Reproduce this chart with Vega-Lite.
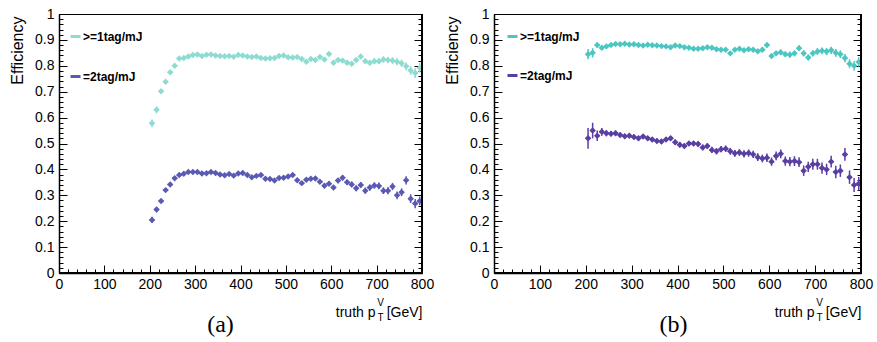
{
"$schema": "https://vega.github.io/schema/vega-lite/v6.json",
"padding": {"left": 8, "top": 6, "right": 0, "bottom": 0},
"background": "white",
"config": {
  "view": {"stroke": "black", "strokeWidth": 1},
  "axis": {"labelFont": "Liberation Sans", "labelFontSize": 14, "labelColor": "black", "titleFont": "Liberation Sans", "titleFontSize": 14, "titleFontWeight": "normal", "titleColor": "black", "domainColor": "black", "tickColor": "black", "grid": false, "labelFlush": false, "labelOverlap": false}
},
"resolve": {"scale": {"color": "independent"}, "legend": {"color": "independent"}},
"spacing": 8,
"data": {"values": [
{"p":"a","s":">=1tag/mJ","x":205,"y":0.578,"e":0.015},{"p":"a","s":">=1tag/mJ","x":215,"y":0.630,"e":0.013},{"p":"a","s":">=1tag/mJ","x":225,"y":0.702,"e":0.008},{"p":"a","s":">=1tag/mJ","x":235,"y":0.738,"e":0.007},{"p":"a","s":">=1tag/mJ","x":245,"y":0.775,"e":0.006},{"p":"a","s":">=1tag/mJ","x":255,"y":0.800,"e":0.005},{"p":"a","s":">=1tag/mJ","x":265,"y":0.828,"e":0.005},{"p":"a","s":">=1tag/mJ","x":275,"y":0.830,"e":0.004},{"p":"a","s":">=1tag/mJ","x":285,"y":0.836,"e":0.004},{"p":"a","s":">=1tag/mJ","x":295,"y":0.842,"e":0.004},
{"p":"a","s":">=1tag/mJ","x":305,"y":0.844,"e":0.004},{"p":"a","s":">=1tag/mJ","x":315,"y":0.838,"e":0.004},{"p":"a","s":">=1tag/mJ","x":325,"y":0.843,"e":0.004},{"p":"a","s":">=1tag/mJ","x":335,"y":0.844,"e":0.004},{"p":"a","s":">=1tag/mJ","x":345,"y":0.840,"e":0.004},{"p":"a","s":">=1tag/mJ","x":355,"y":0.838,"e":0.004},{"p":"a","s":">=1tag/mJ","x":365,"y":0.837,"e":0.004},{"p":"a","s":">=1tag/mJ","x":375,"y":0.838,"e":0.004},{"p":"a","s":">=1tag/mJ","x":385,"y":0.835,"e":0.004},{"p":"a","s":">=1tag/mJ","x":395,"y":0.842,"e":0.004},
{"p":"a","s":">=1tag/mJ","x":405,"y":0.840,"e":0.004},{"p":"a","s":">=1tag/mJ","x":415,"y":0.836,"e":0.004},{"p":"a","s":">=1tag/mJ","x":425,"y":0.834,"e":0.005},{"p":"a","s":">=1tag/mJ","x":435,"y":0.836,"e":0.005},{"p":"a","s":">=1tag/mJ","x":445,"y":0.830,"e":0.005},{"p":"a","s":">=1tag/mJ","x":455,"y":0.828,"e":0.005},{"p":"a","s":">=1tag/mJ","x":465,"y":0.829,"e":0.005},{"p":"a","s":">=1tag/mJ","x":475,"y":0.830,"e":0.005},{"p":"a","s":">=1tag/mJ","x":485,"y":0.838,"e":0.005},{"p":"a","s":">=1tag/mJ","x":495,"y":0.840,"e":0.005},
{"p":"a","s":">=1tag/mJ","x":505,"y":0.833,"e":0.006},{"p":"a","s":">=1tag/mJ","x":515,"y":0.832,"e":0.006},{"p":"a","s":">=1tag/mJ","x":525,"y":0.834,"e":0.006},{"p":"a","s":">=1tag/mJ","x":535,"y":0.826,"e":0.006},{"p":"a","s":">=1tag/mJ","x":545,"y":0.816,"e":0.006},{"p":"a","s":">=1tag/mJ","x":555,"y":0.826,"e":0.006},{"p":"a","s":">=1tag/mJ","x":565,"y":0.822,"e":0.007},{"p":"a","s":">=1tag/mJ","x":575,"y":0.834,"e":0.007},{"p":"a","s":">=1tag/mJ","x":585,"y":0.824,"e":0.007},{"p":"a","s":">=1tag/mJ","x":595,"y":0.846,"e":0.007},
{"p":"a","s":">=1tag/mJ","x":605,"y":0.812,"e":0.008},{"p":"a","s":">=1tag/mJ","x":615,"y":0.822,"e":0.008},{"p":"a","s":">=1tag/mJ","x":625,"y":0.820,"e":0.008},{"p":"a","s":">=1tag/mJ","x":635,"y":0.812,"e":0.009},{"p":"a","s":">=1tag/mJ","x":645,"y":0.808,"e":0.009},{"p":"a","s":">=1tag/mJ","x":655,"y":0.822,"e":0.009},{"p":"a","s":">=1tag/mJ","x":665,"y":0.836,"e":0.010},{"p":"a","s":">=1tag/mJ","x":675,"y":0.818,"e":0.010},{"p":"a","s":">=1tag/mJ","x":685,"y":0.812,"e":0.010},{"p":"a","s":">=1tag/mJ","x":695,"y":0.818,"e":0.011},
{"p":"a","s":">=1tag/mJ","x":705,"y":0.818,"e":0.011},{"p":"a","s":">=1tag/mJ","x":715,"y":0.824,"e":0.012},{"p":"a","s":">=1tag/mJ","x":725,"y":0.822,"e":0.012},{"p":"a","s":">=1tag/mJ","x":735,"y":0.820,"e":0.013},{"p":"a","s":">=1tag/mJ","x":745,"y":0.816,"e":0.014},{"p":"a","s":">=1tag/mJ","x":755,"y":0.810,"e":0.014},{"p":"a","s":">=1tag/mJ","x":765,"y":0.798,"e":0.015},{"p":"a","s":">=1tag/mJ","x":775,"y":0.782,"e":0.017},{"p":"a","s":">=1tag/mJ","x":785,"y":0.772,"e":0.019},{"p":"a","s":">=1tag/mJ","x":795,"y":0.792,"e":0.018},
{"p":"a","s":"=2tag/mJ","x":205,"y":0.205,"e":0.012},{"p":"a","s":"=2tag/mJ","x":215,"y":0.245,"e":0.010},{"p":"a","s":"=2tag/mJ","x":225,"y":0.278,"e":0.008},{"p":"a","s":"=2tag/mJ","x":235,"y":0.320,"e":0.007},{"p":"a","s":"=2tag/mJ","x":245,"y":0.342,"e":0.006},{"p":"a","s":"=2tag/mJ","x":255,"y":0.366,"e":0.005},{"p":"a","s":"=2tag/mJ","x":265,"y":0.378,"e":0.005},{"p":"a","s":"=2tag/mJ","x":275,"y":0.383,"e":0.005},{"p":"a","s":"=2tag/mJ","x":285,"y":0.390,"e":0.005},{"p":"a","s":"=2tag/mJ","x":295,"y":0.390,"e":0.005},
{"p":"a","s":"=2tag/mJ","x":305,"y":0.390,"e":0.005},{"p":"a","s":"=2tag/mJ","x":315,"y":0.384,"e":0.005},{"p":"a","s":"=2tag/mJ","x":325,"y":0.385,"e":0.005},{"p":"a","s":"=2tag/mJ","x":335,"y":0.390,"e":0.005},{"p":"a","s":"=2tag/mJ","x":345,"y":0.386,"e":0.005},{"p":"a","s":"=2tag/mJ","x":355,"y":0.380,"e":0.005},{"p":"a","s":"=2tag/mJ","x":365,"y":0.377,"e":0.005},{"p":"a","s":"=2tag/mJ","x":375,"y":0.382,"e":0.005},{"p":"a","s":"=2tag/mJ","x":385,"y":0.376,"e":0.005},{"p":"a","s":"=2tag/mJ","x":395,"y":0.384,"e":0.005},
{"p":"a","s":"=2tag/mJ","x":405,"y":0.386,"e":0.005},{"p":"a","s":"=2tag/mJ","x":415,"y":0.378,"e":0.005},{"p":"a","s":"=2tag/mJ","x":425,"y":0.370,"e":0.005},{"p":"a","s":"=2tag/mJ","x":435,"y":0.375,"e":0.006},{"p":"a","s":"=2tag/mJ","x":445,"y":0.378,"e":0.006},{"p":"a","s":"=2tag/mJ","x":455,"y":0.364,"e":0.006},{"p":"a","s":"=2tag/mJ","x":465,"y":0.363,"e":0.006},{"p":"a","s":"=2tag/mJ","x":475,"y":0.357,"e":0.006},{"p":"a","s":"=2tag/mJ","x":485,"y":0.367,"e":0.006},{"p":"a","s":"=2tag/mJ","x":495,"y":0.368,"e":0.006},
{"p":"a","s":"=2tag/mJ","x":505,"y":0.373,"e":0.007},{"p":"a","s":"=2tag/mJ","x":515,"y":0.378,"e":0.007},{"p":"a","s":"=2tag/mJ","x":525,"y":0.358,"e":0.007},{"p":"a","s":"=2tag/mJ","x":535,"y":0.347,"e":0.007},{"p":"a","s":"=2tag/mJ","x":545,"y":0.360,"e":0.007},{"p":"a","s":"=2tag/mJ","x":555,"y":0.364,"e":0.008},{"p":"a","s":"=2tag/mJ","x":565,"y":0.365,"e":0.008},{"p":"a","s":"=2tag/mJ","x":575,"y":0.352,"e":0.008},{"p":"a","s":"=2tag/mJ","x":585,"y":0.337,"e":0.009},{"p":"a","s":"=2tag/mJ","x":595,"y":0.345,"e":0.009},
{"p":"a","s":"=2tag/mJ","x":605,"y":0.330,"e":0.009},{"p":"a","s":"=2tag/mJ","x":615,"y":0.357,"e":0.010},{"p":"a","s":"=2tag/mJ","x":625,"y":0.368,"e":0.010},{"p":"a","s":"=2tag/mJ","x":635,"y":0.350,"e":0.010},{"p":"a","s":"=2tag/mJ","x":645,"y":0.342,"e":0.011},{"p":"a","s":"=2tag/mJ","x":655,"y":0.327,"e":0.011},{"p":"a","s":"=2tag/mJ","x":665,"y":0.340,"e":0.011},{"p":"a","s":"=2tag/mJ","x":675,"y":0.318,"e":0.012},{"p":"a","s":"=2tag/mJ","x":685,"y":0.330,"e":0.012},{"p":"a","s":"=2tag/mJ","x":695,"y":0.338,"e":0.012},
{"p":"a","s":"=2tag/mJ","x":705,"y":0.336,"e":0.013},{"p":"a","s":"=2tag/mJ","x":715,"y":0.318,"e":0.013},{"p":"a","s":"=2tag/mJ","x":725,"y":0.318,"e":0.014},{"p":"a","s":"=2tag/mJ","x":735,"y":0.334,"e":0.014},{"p":"a","s":"=2tag/mJ","x":745,"y":0.300,"e":0.015},{"p":"a","s":"=2tag/mJ","x":755,"y":0.312,"e":0.015},{"p":"a","s":"=2tag/mJ","x":765,"y":0.358,"e":0.016},{"p":"a","s":"=2tag/mJ","x":775,"y":0.287,"e":0.017},{"p":"a","s":"=2tag/mJ","x":785,"y":0.268,"e":0.018},{"p":"a","s":"=2tag/mJ","x":795,"y":0.278,"e":0.017},
{"p":"b","s":">=1tag/mJ","x":205,"y":0.845,"e":0.020},{"p":"b","s":">=1tag/mJ","x":215,"y":0.850,"e":0.018},{"p":"b","s":">=1tag/mJ","x":225,"y":0.880,"e":0.010},{"p":"b","s":">=1tag/mJ","x":235,"y":0.870,"e":0.008},{"p":"b","s":">=1tag/mJ","x":245,"y":0.875,"e":0.007},{"p":"b","s":">=1tag/mJ","x":255,"y":0.880,"e":0.006},{"p":"b","s":">=1tag/mJ","x":265,"y":0.884,"e":0.005},{"p":"b","s":">=1tag/mJ","x":275,"y":0.883,"e":0.005},{"p":"b","s":">=1tag/mJ","x":285,"y":0.885,"e":0.005},{"p":"b","s":">=1tag/mJ","x":295,"y":0.882,"e":0.005},
{"p":"b","s":">=1tag/mJ","x":305,"y":0.883,"e":0.005},{"p":"b","s":">=1tag/mJ","x":315,"y":0.880,"e":0.005},{"p":"b","s":">=1tag/mJ","x":325,"y":0.878,"e":0.005},{"p":"b","s":">=1tag/mJ","x":335,"y":0.881,"e":0.005},{"p":"b","s":">=1tag/mJ","x":345,"y":0.879,"e":0.005},{"p":"b","s":">=1tag/mJ","x":355,"y":0.878,"e":0.005},{"p":"b","s":">=1tag/mJ","x":365,"y":0.876,"e":0.005},{"p":"b","s":">=1tag/mJ","x":375,"y":0.875,"e":0.005},{"p":"b","s":">=1tag/mJ","x":385,"y":0.872,"e":0.005},{"p":"b","s":">=1tag/mJ","x":395,"y":0.878,"e":0.005},
{"p":"b","s":">=1tag/mJ","x":405,"y":0.876,"e":0.005},{"p":"b","s":">=1tag/mJ","x":415,"y":0.872,"e":0.005},{"p":"b","s":">=1tag/mJ","x":425,"y":0.870,"e":0.006},{"p":"b","s":">=1tag/mJ","x":435,"y":0.866,"e":0.006},{"p":"b","s":">=1tag/mJ","x":445,"y":0.866,"e":0.006},{"p":"b","s":">=1tag/mJ","x":455,"y":0.868,"e":0.006},{"p":"b","s":">=1tag/mJ","x":465,"y":0.872,"e":0.006},{"p":"b","s":">=1tag/mJ","x":475,"y":0.870,"e":0.006},{"p":"b","s":">=1tag/mJ","x":485,"y":0.864,"e":0.006},{"p":"b","s":">=1tag/mJ","x":495,"y":0.862,"e":0.007},
{"p":"b","s":">=1tag/mJ","x":505,"y":0.862,"e":0.007},{"p":"b","s":">=1tag/mJ","x":515,"y":0.848,"e":0.007},{"p":"b","s":">=1tag/mJ","x":525,"y":0.862,"e":0.007},{"p":"b","s":">=1tag/mJ","x":535,"y":0.866,"e":0.007},{"p":"b","s":">=1tag/mJ","x":545,"y":0.860,"e":0.008},{"p":"b","s":">=1tag/mJ","x":555,"y":0.864,"e":0.008},{"p":"b","s":">=1tag/mJ","x":565,"y":0.862,"e":0.008},{"p":"b","s":">=1tag/mJ","x":575,"y":0.856,"e":0.008},{"p":"b","s":">=1tag/mJ","x":585,"y":0.862,"e":0.009},{"p":"b","s":">=1tag/mJ","x":595,"y":0.880,"e":0.009},
{"p":"b","s":">=1tag/mJ","x":605,"y":0.838,"e":0.009},{"p":"b","s":">=1tag/mJ","x":615,"y":0.848,"e":0.010},{"p":"b","s":">=1tag/mJ","x":625,"y":0.852,"e":0.010},{"p":"b","s":">=1tag/mJ","x":635,"y":0.845,"e":0.010},{"p":"b","s":">=1tag/mJ","x":645,"y":0.843,"e":0.011},{"p":"b","s":">=1tag/mJ","x":655,"y":0.848,"e":0.011},{"p":"b","s":">=1tag/mJ","x":665,"y":0.868,"e":0.011},{"p":"b","s":">=1tag/mJ","x":675,"y":0.848,"e":0.012},{"p":"b","s":">=1tag/mJ","x":685,"y":0.832,"e":0.012},{"p":"b","s":">=1tag/mJ","x":695,"y":0.848,"e":0.012},
{"p":"b","s":">=1tag/mJ","x":705,"y":0.855,"e":0.013},{"p":"b","s":">=1tag/mJ","x":715,"y":0.858,"e":0.013},{"p":"b","s":">=1tag/mJ","x":725,"y":0.855,"e":0.014},{"p":"b","s":">=1tag/mJ","x":735,"y":0.860,"e":0.014},{"p":"b","s":">=1tag/mJ","x":745,"y":0.850,"e":0.015},{"p":"b","s":">=1tag/mJ","x":755,"y":0.845,"e":0.015},{"p":"b","s":">=1tag/mJ","x":765,"y":0.830,"e":0.016},{"p":"b","s":">=1tag/mJ","x":775,"y":0.808,"e":0.017},{"p":"b","s":">=1tag/mJ","x":785,"y":0.800,"e":0.019},{"p":"b","s":">=1tag/mJ","x":795,"y":0.815,"e":0.018},
{"p":"b","s":"=2tag/mJ","x":205,"y":0.520,"e":0.040},{"p":"b","s":"=2tag/mJ","x":215,"y":0.550,"e":0.030},{"p":"b","s":"=2tag/mJ","x":225,"y":0.530,"e":0.020},{"p":"b","s":"=2tag/mJ","x":235,"y":0.545,"e":0.015},{"p":"b","s":"=2tag/mJ","x":245,"y":0.540,"e":0.012},{"p":"b","s":"=2tag/mJ","x":255,"y":0.538,"e":0.010},{"p":"b","s":"=2tag/mJ","x":265,"y":0.540,"e":0.010},{"p":"b","s":"=2tag/mJ","x":275,"y":0.533,"e":0.009},{"p":"b","s":"=2tag/mJ","x":285,"y":0.528,"e":0.009},{"p":"b","s":"=2tag/mJ","x":295,"y":0.530,"e":0.009},
{"p":"b","s":"=2tag/mJ","x":305,"y":0.525,"e":0.009},{"p":"b","s":"=2tag/mJ","x":315,"y":0.520,"e":0.009},{"p":"b","s":"=2tag/mJ","x":325,"y":0.527,"e":0.009},{"p":"b","s":"=2tag/mJ","x":335,"y":0.520,"e":0.009},{"p":"b","s":"=2tag/mJ","x":345,"y":0.515,"e":0.009},{"p":"b","s":"=2tag/mJ","x":355,"y":0.510,"e":0.009},{"p":"b","s":"=2tag/mJ","x":365,"y":0.508,"e":0.009},{"p":"b","s":"=2tag/mJ","x":375,"y":0.515,"e":0.009},{"p":"b","s":"=2tag/mJ","x":385,"y":0.520,"e":0.009},{"p":"b","s":"=2tag/mJ","x":395,"y":0.505,"e":0.010},
{"p":"b","s":"=2tag/mJ","x":405,"y":0.495,"e":0.010},{"p":"b","s":"=2tag/mJ","x":415,"y":0.490,"e":0.010},{"p":"b","s":"=2tag/mJ","x":425,"y":0.500,"e":0.010},{"p":"b","s":"=2tag/mJ","x":435,"y":0.500,"e":0.010},{"p":"b","s":"=2tag/mJ","x":445,"y":0.498,"e":0.011},{"p":"b","s":"=2tag/mJ","x":455,"y":0.485,"e":0.011},{"p":"b","s":"=2tag/mJ","x":465,"y":0.490,"e":0.011},{"p":"b","s":"=2tag/mJ","x":475,"y":0.475,"e":0.012},{"p":"b","s":"=2tag/mJ","x":485,"y":0.470,"e":0.012},{"p":"b","s":"=2tag/mJ","x":495,"y":0.478,"e":0.012},
{"p":"b","s":"=2tag/mJ","x":505,"y":0.480,"e":0.012},{"p":"b","s":"=2tag/mJ","x":515,"y":0.470,"e":0.013},{"p":"b","s":"=2tag/mJ","x":525,"y":0.462,"e":0.013},{"p":"b","s":"=2tag/mJ","x":535,"y":0.465,"e":0.013},{"p":"b","s":"=2tag/mJ","x":545,"y":0.460,"e":0.014},{"p":"b","s":"=2tag/mJ","x":555,"y":0.463,"e":0.014},{"p":"b","s":"=2tag/mJ","x":565,"y":0.458,"e":0.014},{"p":"b","s":"=2tag/mJ","x":575,"y":0.447,"e":0.015},{"p":"b","s":"=2tag/mJ","x":585,"y":0.442,"e":0.015},{"p":"b","s":"=2tag/mJ","x":595,"y":0.445,"e":0.016},
{"p":"b","s":"=2tag/mJ","x":605,"y":0.430,"e":0.016},{"p":"b","s":"=2tag/mJ","x":615,"y":0.452,"e":0.017},{"p":"b","s":"=2tag/mJ","x":625,"y":0.460,"e":0.017},{"p":"b","s":"=2tag/mJ","x":635,"y":0.432,"e":0.018},{"p":"b","s":"=2tag/mJ","x":645,"y":0.430,"e":0.018},{"p":"b","s":"=2tag/mJ","x":655,"y":0.432,"e":0.019},{"p":"b","s":"=2tag/mJ","x":665,"y":0.428,"e":0.019},{"p":"b","s":"=2tag/mJ","x":675,"y":0.395,"e":0.020},{"p":"b","s":"=2tag/mJ","x":685,"y":0.410,"e":0.020},{"p":"b","s":"=2tag/mJ","x":695,"y":0.420,"e":0.021},
{"p":"b","s":"=2tag/mJ","x":705,"y":0.420,"e":0.021},{"p":"b","s":"=2tag/mJ","x":715,"y":0.405,"e":0.022},{"p":"b","s":"=2tag/mJ","x":725,"y":0.400,"e":0.022},{"p":"b","s":"=2tag/mJ","x":735,"y":0.430,"e":0.023},{"p":"b","s":"=2tag/mJ","x":745,"y":0.390,"e":0.024},{"p":"b","s":"=2tag/mJ","x":755,"y":0.395,"e":0.024},{"p":"b","s":"=2tag/mJ","x":765,"y":0.458,"e":0.025},{"p":"b","s":"=2tag/mJ","x":775,"y":0.370,"e":0.026},{"p":"b","s":"=2tag/mJ","x":785,"y":0.340,"e":0.027},{"p":"b","s":"=2tag/mJ","x":795,"y":0.345,"e":0.026}
]},
"hconcat": [
{
  "width": 363, "height": 259,
  "title": {"text": "(a)", "orient": "bottom", "font": "Liberation Serif", "fontSize": 24, "fontWeight": "normal", "color": "black", "dx": -20, "offset": 0, "dy": -9},
  "transform": [{"filter": "datum.p === 'a'"}],
  "resolve": {"axis": {"x": "independent", "y": "independent"}},
  "layer": [
    {"mark": {"type": "errorbar", "thickness": 1.5},
     "encoding": {
       "x": {"field": "x", "type": "quantitative", "scale": {"domain": [0, 800], "nice": false},
             "axis": {"orient": "bottom", "values": [0,100,200,300,400,500,600,700,800], "tickSize": -8, "domainWidth": 1.5, "labelPadding": 12, "title": "truth p", "titleX": 316, "titleY": 43, "titleAlign": "right", "titleBaseline": "alphabetic", "titleAnchor": null}},
       "y": {"field": "y", "type": "quantitative", "scale": {"domain": [0, 1], "nice": false},
             "axis": {"orient": "left", "values": [0,0.1,0.2,0.3,0.4,0.5,0.6,0.7,0.8,0.9,1], "format": "~g", "tickSize": -8, "domainWidth": 1.5, "labelPadding": 13, "title": "Efficiency", "titleFontSize": 16, "titleX": -34, "titleY": 2, "titleAlign": "right", "titleBaseline": "bottom", "titleAngle": -90}},
       "yError": {"field": "e"},
       "color": {"field": "s", "type": "nominal", "scale": {"domain": [">=1tag/mJ", "=2tag/mJ"], "range": ["#8ddcd2", "#5a5ab4"]},
                 "legend": {"orient": "none", "legendX": 10, "legendY": 16, "title": null, "symbolType": "stroke", "symbolStrokeWidth": 3, "symbolSize": 100, "labelFont": "Liberation Sans", "labelFontSize": 12, "labelFontWeight": "bold", "labelColor": "black", "labelOffset": 1, "rowPadding": 27}}
     }},
    {"mark": {"type": "tick", "orient": "horizontal", "size": 5, "thickness": 1.5},
     "encoding": {
       "x": {"field": "x", "type": "quantitative",
             "axis": {"orient": "bottom", "values": [0,20,40,60,80,100,120,140,160,180,200,220,240,260,280,300,320,340,360,380,400,420,440,460,480,500,520,540,560,580,600,620,640,660,680,700,720,740,760,780,800], "tickSize": -4, "labels": false, "domain": false, "title": "T", "titleFontSize": 10, "titleX": 321, "titleY": 47, "titleAlign": "center", "titleBaseline": "alphabetic", "titleAnchor": null}},
       "y": {"field": "y", "type": "quantitative",
             "axis": {"orient": "left", "values": [0,0.02,0.04,0.06,0.08,0.1,0.12,0.14,0.16,0.18,0.2,0.22,0.24,0.26,0.28,0.3,0.32,0.34,0.36,0.38,0.4,0.42,0.44,0.46,0.48,0.5,0.52,0.54,0.56,0.58,0.6,0.62,0.64,0.66,0.68,0.7,0.72,0.74,0.76,0.78,0.8,0.82,0.84,0.86,0.88,0.9,0.92,0.94,0.96,0.98,1], "tickSize": -4, "labels": false, "domain": false, "title": null}},
       "color": {"field": "s", "type": "nominal", "legend": null}
     }},
    {"mark": {"type": "point", "shape": "diamond", "filled": true, "size": 42, "opacity": 1},
     "encoding": {
       "x": {"field": "x", "type": "quantitative",
             "axis": {"orient": "bottom", "ticks": false, "labels": false, "domain": false, "title": "V", "titleFontSize": 10, "titleX": 321, "titleY": 32, "titleAlign": "center", "titleBaseline": "alphabetic", "titleAnchor": null}},
       "y": {"field": "y", "type": "quantitative",
             "axis": {"orient": "right", "values": [0,0.1,0.2,0.3,0.4,0.5,0.6,0.7,0.8,0.9,1], "tickSize": -8, "labels": false, "domain": false, "title": null}},
       "color": {"field": "s", "type": "nominal", "legend": null}
     }},
    {"mark": {"type": "rule", "color": "black", "strokeWidth": 1.5},
     "encoding": {
       "y": {"datum": 0, "type": "quantitative",
             "axis": {"orient": "right", "values": [0,0.02,0.04,0.06,0.08,0.1,0.12,0.14,0.16,0.18,0.2,0.22,0.24,0.26,0.28,0.3,0.32,0.34,0.36,0.38,0.4,0.42,0.44,0.46,0.48,0.5,0.52,0.54,0.56,0.58,0.6,0.62,0.64,0.66,0.68,0.7,0.72,0.74,0.76,0.78,0.8,0.82,0.84,0.86,0.88,0.9,0.92,0.94,0.96,0.98,1], "tickSize": -4, "labels": false, "domain": false, "title": null}}
     }},
    {"mark": {"type": "rule", "color": "black", "strokeWidth": 1},
     "encoding": {
       "x": {"datum": 800, "type": "quantitative",
             "axis": {"orient": "bottom", "ticks": false, "labels": false, "domain": false, "title": "[GeV]", "titleX": 363, "titleY": 43, "titleAlign": "right", "titleBaseline": "alphabetic", "titleAnchor": null}}
     }}
  ]
},
{
  "width": 367, "height": 259,
  "title": {"text": "(b)", "orient": "bottom", "font": "Liberation Serif", "fontSize": 24, "fontWeight": "normal", "color": "black", "dx": -4, "offset": 0, "dy": -9},
  "transform": [{"filter": "datum.p === 'b'"}],
  "resolve": {"axis": {"x": "independent", "y": "independent"}},
  "layer": [
    {"mark": {"type": "errorbar", "thickness": 1.5},
     "encoding": {
       "x": {"field": "x", "type": "quantitative", "scale": {"domain": [0, 800], "nice": false},
             "axis": {"orient": "bottom", "values": [0,100,200,300,400,500,600,700,800], "tickSize": -8, "domainWidth": 1.5, "labelPadding": 12, "title": "truth p", "titleX": 320, "titleY": 43, "titleAlign": "right", "titleBaseline": "alphabetic", "titleAnchor": null}},
       "y": {"field": "y", "type": "quantitative", "scale": {"domain": [0, 1], "nice": false},
             "axis": {"orient": "left", "values": [0,0.1,0.2,0.3,0.4,0.5,0.6,0.7,0.8,0.9,1], "format": "~g", "tickSize": -8, "domainWidth": 1.5, "labelPadding": 13, "title": "Efficiency", "titleFontSize": 16, "titleX": -34, "titleY": 2, "titleAlign": "right", "titleBaseline": "bottom", "titleAngle": -90}},
       "yError": {"field": "e"},
       "color": {"field": "s", "type": "nominal", "scale": {"domain": [">=1tag/mJ", "=2tag/mJ"], "range": ["#4cc6c2", "#5a3fa3"]},
                 "legend": {"orient": "none", "legendX": 12, "legendY": 16, "title": null, "symbolType": "stroke", "symbolStrokeWidth": 3, "symbolSize": 100, "labelFont": "Liberation Sans", "labelFontSize": 12, "labelFontWeight": "bold", "labelColor": "black", "labelOffset": 1, "rowPadding": 26}}
     }},
    {"mark": {"type": "tick", "orient": "horizontal", "size": 5, "thickness": 1.5},
     "encoding": {
       "x": {"field": "x", "type": "quantitative",
             "axis": {"orient": "bottom", "values": [0,20,40,60,80,100,120,140,160,180,200,220,240,260,280,300,320,340,360,380,400,420,440,460,480,500,520,540,560,580,600,620,640,660,680,700,720,740,760,780,800], "tickSize": -4, "labels": false, "domain": false, "title": "T", "titleFontSize": 10, "titleX": 325, "titleY": 47, "titleAlign": "center", "titleBaseline": "alphabetic", "titleAnchor": null}},
       "y": {"field": "y", "type": "quantitative",
             "axis": {"orient": "left", "values": [0,0.02,0.04,0.06,0.08,0.1,0.12,0.14,0.16,0.18,0.2,0.22,0.24,0.26,0.28,0.3,0.32,0.34,0.36,0.38,0.4,0.42,0.44,0.46,0.48,0.5,0.52,0.54,0.56,0.58,0.6,0.62,0.64,0.66,0.68,0.7,0.72,0.74,0.76,0.78,0.8,0.82,0.84,0.86,0.88,0.9,0.92,0.94,0.96,0.98,1], "tickSize": -4, "labels": false, "domain": false, "title": null}},
       "color": {"field": "s", "type": "nominal", "legend": null}
     }},
    {"mark": {"type": "point", "shape": "diamond", "filled": true, "size": 42, "opacity": 1},
     "encoding": {
       "x": {"field": "x", "type": "quantitative",
             "axis": {"orient": "bottom", "ticks": false, "labels": false, "domain": false, "title": "V", "titleFontSize": 10, "titleX": 325, "titleY": 32, "titleAlign": "center", "titleBaseline": "alphabetic", "titleAnchor": null}},
       "y": {"field": "y", "type": "quantitative",
             "axis": {"orient": "right", "values": [0,0.1,0.2,0.3,0.4,0.5,0.6,0.7,0.8,0.9,1], "tickSize": -8, "labels": false, "domain": false, "title": null}},
       "color": {"field": "s", "type": "nominal", "legend": null}
     }},
    {"mark": {"type": "rule", "color": "black", "strokeWidth": 1.5},
     "encoding": {
       "y": {"datum": 0, "type": "quantitative",
             "axis": {"orient": "right", "values": [0,0.02,0.04,0.06,0.08,0.1,0.12,0.14,0.16,0.18,0.2,0.22,0.24,0.26,0.28,0.3,0.32,0.34,0.36,0.38,0.4,0.42,0.44,0.46,0.48,0.5,0.52,0.54,0.56,0.58,0.6,0.62,0.64,0.66,0.68,0.7,0.72,0.74,0.76,0.78,0.8,0.82,0.84,0.86,0.88,0.9,0.92,0.94,0.96,0.98,1], "tickSize": -4, "labels": false, "domain": false, "title": null}}
     }},
    {"mark": {"type": "rule", "color": "black", "strokeWidth": 1},
     "encoding": {
       "x": {"datum": 800, "type": "quantitative",
             "axis": {"orient": "bottom", "ticks": false, "labels": false, "domain": false, "title": "[GeV]", "titleX": 367, "titleY": 43, "titleAlign": "right", "titleBaseline": "alphabetic", "titleAnchor": null}}
     }}
  ]
}
]
}
